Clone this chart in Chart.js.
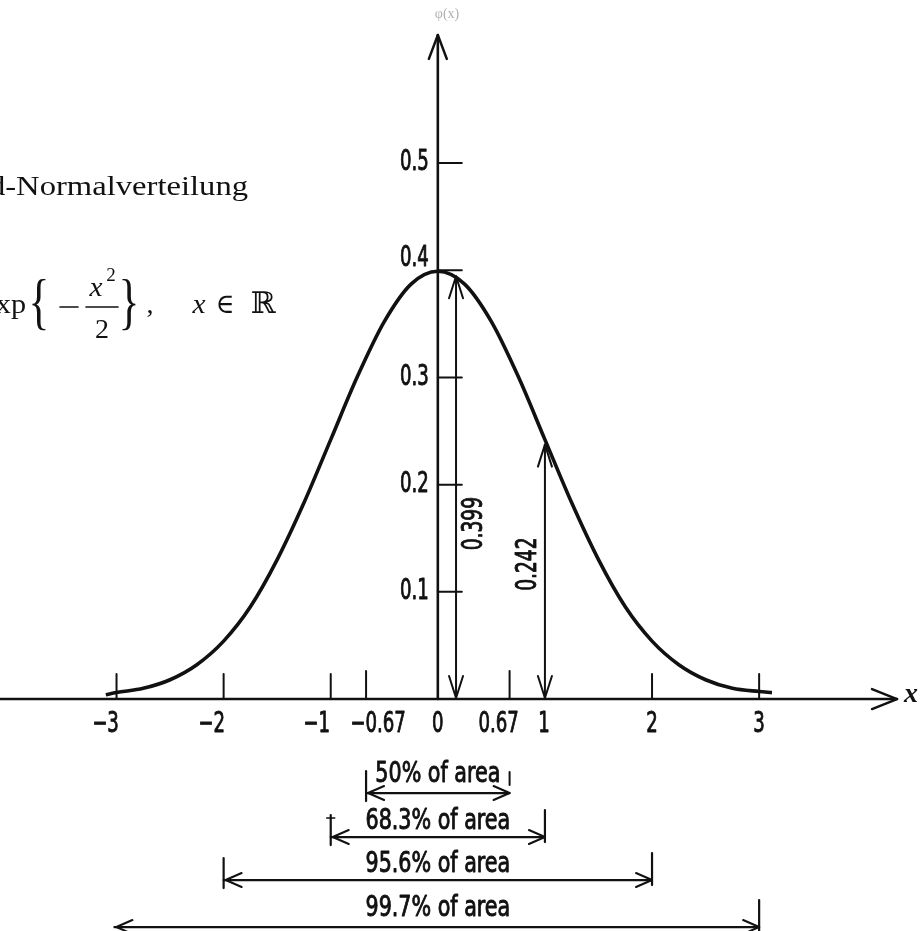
<!DOCTYPE html>
<html>
<head>
<meta charset="utf-8">
<script src="https://cdn.jsdelivr.net/npm/chart.js@4"></script>
<style>
  html, body { margin: 0; padding: 0; background: #ffffff; }
  #wrap { width: 923px; height: 931px; position: relative; }
</style>
</head>
<body>
<div id="wrap"><canvas id="c" width="923" height="931"></canvas></div>
<script>
// ---- data ----
const curveX = [-3.1, -3, -2.75, -2.5, -2.25, -2, -1.75, -1.5, -1.25, -1, -0.75, -0.5, -0.25, 0,
                0.25, 0.5, 0.75, 1, 1.25, 1.5, 1.75, 2, 2.25, 2.5, 2.75, 3, 3.12];
const curveY = [0.004, 0.006, 0.010, 0.018, 0.032, 0.054, 0.086, 0.130, 0.183, 0.242, 0.301, 0.352, 0.387, 0.399,
                0.387, 0.352, 0.301, 0.242, 0.183, 0.130, 0.086, 0.054, 0.032, 0.018, 0.010, 0.007, 0.006];
const xTickValues = [-3, -2, -1, -0.67, 0, 0.67, 1, 2, 3];
const xTickLabels = ['\u22123', '\u22122', '\u22121', '\u22120.67', '0', '0.67', '1', '2', '3'];
const yTickValues = [0.1, 0.2, 0.3, 0.4, 0.5];
const yTickLabels = ['0.1', '0.2', '0.3', '0.4', '0.5'];
const markerX = [0.17, 1];
const markerY = [0.399, 0.242];
const markerLabels = ['0.399', '0.242'];
const bandFrom = [-0.67, -1, -2, -3];
const bandTo = [0.67, 1, 2, 3];
const bandLabels = ['50% of area', '68.3% of area', '95.6% of area', '99.7% of area'];
const titleText = 'Standard-Normalverteilung';

// ---- drawing helpers ----
const INK = '#111111';
const NUM_FONT = '28px "Liberation Sans Narrow", "DejaVu Sans Condensed", sans-serif';
const SERIF = '"Liberation Serif", "DejaVu Serif", serif';

function txt(ctx, s, x, y, font, sx, align, base, stroke) {
  ctx.save();
  ctx.font = font;
  ctx.fillStyle = INK;
  ctx.strokeStyle = INK;
  ctx.translate(x, y);
  ctx.scale(sx, 1);
  ctx.textAlign = align || 'center';
  ctx.textBaseline = base || 'middle';
  ctx.fillText(s, 0, 0);
  if (stroke) { ctx.lineWidth = stroke; ctx.lineJoin = 'round'; ctx.strokeText(s, 0, 0); }
  ctx.restore();
}
function num(ctx, s, x, y, sx, align) {
  txt(ctx, s, x, y, NUM_FONT, sx, align, 'middle', 0.9);
}
function line(ctx, x1, y1, x2, y2, w) {
  ctx.beginPath();
  ctx.lineWidth = w;
  ctx.moveTo(x1, y1);
  ctx.lineTo(x2, y2);
  ctx.stroke();
}
function head(ctx, tx, ty, dx, dy, len, half, w) {
  const px = -dy, py = dx;
  ctx.beginPath();
  ctx.lineWidth = w;
  ctx.moveTo(tx - dx * len + px * half, ty - dy * len + py * half);
  ctx.lineTo(tx, ty);
  ctx.lineTo(tx - dx * len - px * half, ty - dy * len - py * half);
  ctx.stroke();
}

const decor = {
  id: 'decor',
  afterDatasetsDraw(chart) {
    const ctx = chart.ctx;
    const xs = chart.scales.x, ys = chart.scales.y;
    const X = v => xs.getPixelForValue(v);
    const Y = v => ys.getPixelForValue(v);
    const x0 = X(0), y0 = Y(0);
    ctx.save();
    ctx.strokeStyle = INK;
    ctx.lineCap = 'round';
    ctx.lineJoin = 'round';

    // x axis with arrow
    line(ctx, 0, y0, 897, y0, 2.6);
    head(ctx, 897, y0, 1, 0, 25, 10, 2.4);
    txt(ctx, 'x', 911, y0 - 4, 'italic bold 28px ' + SERIF, 1, 'center');

    // y axis with arrow
    line(ctx, x0, y0, x0, 35, 2.6);
    head(ctx, x0, 35, 0, -1, 24, 9, 2.4);

    // y ticks and labels
    yTickValues.forEach((v, i) => {
      const py = Y(v);
      line(ctx, x0, py, x0 + 24, py, 2);
      const dy = (yTickLabels[i] === '0.4') ? -12 : 0;
      num(ctx, yTickLabels[i], x0 - 9, py + dy, 0.72, 'right');
    });

    // x ticks and labels
    const labelShift = { '\u22123': -11, '\u22122': -12, '\u22121': -14, '\u22120.67': 12, '0.67': -11, '1': -1 };
    xTickValues.forEach((v, i) => {
      const px = X(v);
      if (v !== 0 && v !== 1) {
        const h = Math.abs(v) < 0.9 ? 28 : 25;
        line(ctx, px, y0, px, y0 - h, 2);
      }
      const s = xTickLabels[i];
      num(ctx, s, px + (labelShift[s] || 0), y0 + 26, 0.72, 'center');
    });

    // height markers (double arrows)
    const labelSide = [19, -16];
    const labelFrac = [0.41, 0.52];
    markerX.forEach((mx, i) => {
      const px = X(mx);
      const top = Y(markerY[i]) + 5;
      line(ctx, px, y0 - 1, px, top, 2);
      head(ctx, px, top, 0, -1, 22, 7, 2);
      head(ctx, px, y0 - 1, 0, 1, 22, 7, 2);
      const ly = y0 - (y0 - Y(markerY[i])) * labelFrac[i];
      ctx.save();
      ctx.translate(px + labelSide[i], ly);
      ctx.rotate(-Math.PI / 2);
      num(ctx, markerLabels[i], 0, 0, 0.74, 'center');
      ctx.restore();
    });

    // area bands below the axis
    const rowLine = [94, 138, 181, 228];
    const rowText = [-18, -15, -15, -18];
    bandFrom.forEach((a, i) => {
      const ly = y0 + rowLine[i];
      const xa = X(a), xb = X(bandTo[i]);
      const last = i === bandFrom.length - 1;
      const left = last ? X(-3.02) : xa;
      line(ctx, left, ly, xb, ly, 2.2);
      head(ctx, left + 2, ly, -1, 0, 16, 7, 2);
      head(ctx, xb, ly, 1, 0, 16, 7, 2);
      if (!last) line(ctx, xa, ly - 22, xa, ly + 8, 2.2);
      if (i === 0) {
        line(ctx, xb, ly - 21, xb, ly - 8, 2);
      } else {
        line(ctx, xb, ly - 27, xb, ly + 5, 2.2);
      }
      if (i === 1) line(ctx, xa - 4, ly - 19, xa + 4, ly - 19, 1.6);
      num(ctx, bandLabels[i], X(0), ly + rowText[i], 0.82, 'center');
    });

    // title and formula (top left)
    txt(ctx, titleText, 248, 195, '28px ' + SERIF, 1.165, 'right', 'alphabetic');
    const fs = '28px ' + SERIF;
    txt(ctx, 'exp', 26, 313, fs, 1.08, 'right', 'alphabetic');
    txt(ctx, '{', 39, 322, '62px ' + SERIF, 0.7, 'center', 'alphabetic');
    line(ctx, 60, 307, 78, 307, 1.6);
    txt(ctx, 'x', 96, 296, 'italic 28px ' + SERIF, 1.05, 'center', 'alphabetic');
    txt(ctx, '2', 111, 281, '19px ' + SERIF, 1, 'center', 'alphabetic');
    line(ctx, 86, 307, 118, 307, 1.6);
    txt(ctx, '2', 102, 338, fs, 1, 'center', 'alphabetic');
    txt(ctx, '}', 129, 322, '62px ' + SERIF, 0.7, 'center', 'alphabetic');
    txt(ctx, ',', 150, 313, fs, 1, 'center', 'alphabetic');
    txt(ctx, 'x', 199, 313, 'italic 28px ' + SERIF, 1.05, 'center', 'alphabetic');
    txt(ctx, '\u2208', 225, 313, '28px "DejaVu Serif", serif', 0.9, 'center', 'alphabetic');
    txt(ctx, '\u211D', 263, 313, '30px "DejaVu Serif", serif', 1, 'center', 'alphabetic');

    // faint bleed-through label at top
    ctx.save();
    ctx.globalAlpha = 0.35;
    txt(ctx, '\u03C6(x)', 447, 14, '14px ' + SERIF, 1, 'center');
    ctx.restore();

    ctx.restore();
  }
};

new Chart(document.getElementById('c'), {
  type: 'line',
  data: {
    datasets: [{
      data: curveX.map((x, i) => ({ x: x, y: curveY[i] })),
      borderColor: INK,
      borderWidth: 3.6,
      pointRadius: 0,
      cubicInterpolationMode: 'monotone',
      fill: false
    }]
  },
  options: {
    responsive: false,
    devicePixelRatio: 1,
    animation: false,
    layout: { padding: 0 },
    plugins: { legend: { display: false }, tooltip: { enabled: false }, title: { display: false } },
    scales: {
      x: { type: 'linear', min: -4.088, max: 4.530, display: false },
      y: { type: 'linear', min: -0.2164, max: 0.6521, display: false }
    }
  },
  plugins: [decor]
});
</script>
</body>
</html>
